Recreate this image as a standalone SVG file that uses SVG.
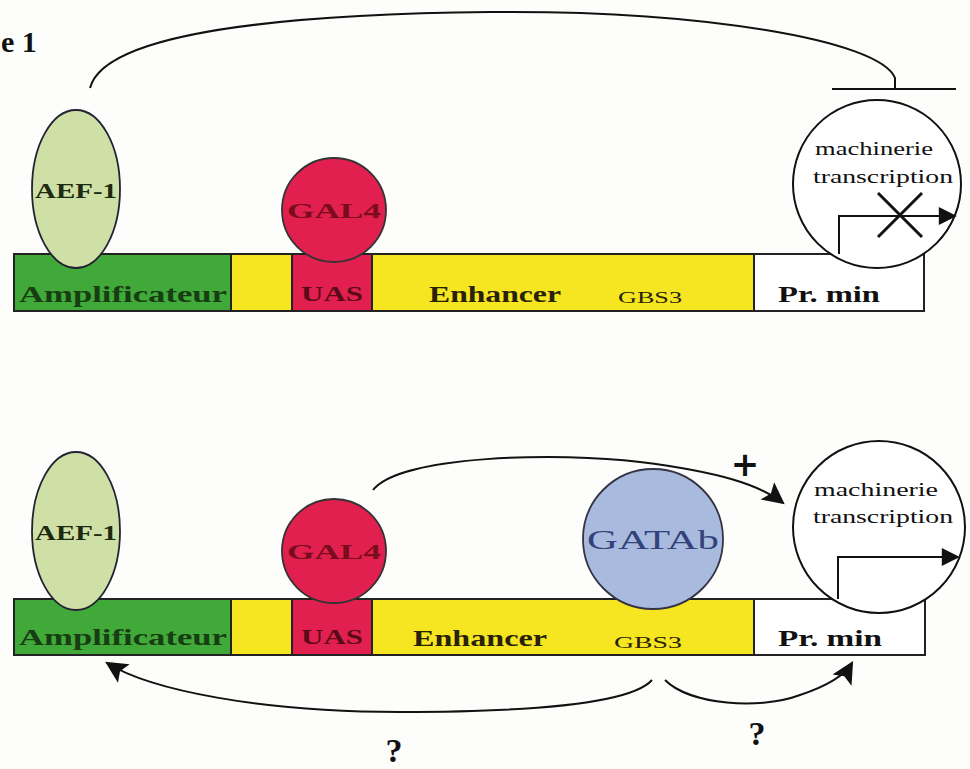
<svg xmlns="http://www.w3.org/2000/svg" width="970" height="769" viewBox="0 0 970 769">
<defs>
<marker id="ahb" viewBox="0 0 10 10" refX="9" refY="5" markerWidth="24" markerHeight="22" markerUnits="userSpaceOnUse" orient="auto">
<path d="M0,0 L10,5 L0,10 L2,5 z" fill="#111"/>
</marker>
<marker id="ahp" viewBox="0 0 10 10" refX="9" refY="5" markerWidth="28" markerHeight="18" markerUnits="userSpaceOnUse" orient="auto">
<path d="M0,0 L10,5 L0,10 z" fill="#111"/>
</marker>
</defs>
<style>
.bx{stroke:#222;stroke-width:2}
.grn{fill:#41a93a}
.yel{fill:#f6e622}
.red{fill:#e2204f}
.wht{fill:#ffffff}
.aef{fill:#cfe0a6;stroke:#223;stroke-width:1.8}
.gal{fill:#e2204f;stroke:#333;stroke-width:1.8}
.gat{fill:#a9badf;stroke:#334;stroke-width:1.8}
.mach{fill:#fff;stroke:#111;stroke-width:2}
.ln{fill:none;stroke:#111;stroke-width:2}
.t{font-family:"Liberation Serif","DejaVu Serif",serif;font-weight:bold}
.tn{font-family:"Liberation Serif","DejaVu Serif",serif}
</style>
<rect width="970" height="769" fill="#fdfdfb"/>
<text x="1" y="52" class="t" font-size="30" fill="#111">e 1</text>

<!-- TOP PANEL -->
<g id="top-bar">
<rect x="14" y="254" width="217" height="57" class="bx grn"/>
<rect x="231" y="254" width="61" height="57" class="bx yel"/>
<rect x="372" y="254" width="382" height="57" class="bx yel"/>
<rect x="292" y="254" width="80" height="57" class="bx red"/>
<rect x="754" y="254" width="170" height="57" class="bx wht"/>
<text x="123" y="302" class="t" font-size="23" fill="#173d12" text-anchor="middle" textLength="208" lengthAdjust="spacingAndGlyphs">Amplificateur</text>
<text x="332" y="301" class="t" font-size="21" fill="#5a0a18" text-anchor="middle" textLength="62" lengthAdjust="spacingAndGlyphs">UAS</text>
<text x="495" y="302" class="t" font-size="24" fill="#2a2206" text-anchor="middle" textLength="132" lengthAdjust="spacingAndGlyphs">Enhancer</text>
<text x="650" y="303" class="tn" font-size="17" fill="#2a2206" text-anchor="middle" textLength="64" lengthAdjust="spacingAndGlyphs">GBS3</text>
<text x="829" y="302" class="t" font-size="24" fill="#111" text-anchor="middle" textLength="102" lengthAdjust="spacingAndGlyphs">Pr. min</text>
</g>
<g id="top-aef1">
<ellipse cx="76" cy="189" rx="44" ry="79" class="aef"/>
<text x="76" y="198" class="t" font-size="21" fill="#1d2a10" text-anchor="middle" textLength="82" lengthAdjust="spacingAndGlyphs">AEF-1</text>
</g>
<g id="top-gal4">
<circle cx="334" cy="210" r="52" class="gal"/>
<text x="334" y="218" class="t" font-size="21" fill="#7a0c1e" text-anchor="middle" textLength="94" lengthAdjust="spacingAndGlyphs">GAL4</text>
</g>
<g id="top-machinerie">
<circle cx="877" cy="184" r="84" class="mach"/>
<text x="874" y="155" class="tn" font-size="19" fill="#111" text-anchor="middle" textLength="118" lengthAdjust="spacingAndGlyphs">machinerie</text>
<text x="883" y="183" class="tn" font-size="19" fill="#111" text-anchor="middle" textLength="140" lengthAdjust="spacingAndGlyphs">transcription</text>
<path d="M839,254 V216 H955" class="ln" marker-end="url(#ahp)"/>
<path d="M878,193 L922,237 M922,193 L878,237" stroke="#111" stroke-width="3" fill="none"/>
</g>
<g id="top-connectors">
<path d="M90,88 C105,30 300,14 490,12 C700,10 880,40 895,78 V89" class="ln"/>
<line x1="832" y1="89" x2="956" y2="89" stroke="#111" stroke-width="2"/>
</g>

<!-- BOTTOM PANEL -->
<g id="bottom-bar">
<rect x="14" y="599" width="217" height="56" class="bx grn"/>
<rect x="231" y="599" width="61" height="56" class="bx yel"/>
<rect x="372" y="599" width="382" height="56" class="bx yel"/>
<rect x="292" y="599" width="80" height="56" class="bx red"/>
<rect x="754" y="599" width="171" height="56" class="bx wht"/>
<text x="123" y="645" class="t" font-size="23" fill="#173d12" text-anchor="middle" textLength="208" lengthAdjust="spacingAndGlyphs">Amplificateur</text>
<text x="332" y="644" class="t" font-size="21" fill="#5a0a18" text-anchor="middle" textLength="62" lengthAdjust="spacingAndGlyphs">UAS</text>
<text x="480" y="646" class="t" font-size="24" fill="#2a2206" text-anchor="middle" textLength="134" lengthAdjust="spacingAndGlyphs">Enhancer</text>
<text x="648" y="648" class="tn" font-size="17" fill="#2a2206" text-anchor="middle" textLength="68" lengthAdjust="spacingAndGlyphs">GBS3</text>
<text x="830" y="646" class="t" font-size="24" fill="#111" text-anchor="middle" textLength="104" lengthAdjust="spacingAndGlyphs">Pr. min</text>
</g>
<g id="bottom-aef1">
<ellipse cx="76" cy="531" rx="44" ry="79" class="aef"/>
<text x="76" y="540" class="t" font-size="21" fill="#1d2a10" text-anchor="middle" textLength="82" lengthAdjust="spacingAndGlyphs">AEF-1</text>
</g>
<g id="bottom-gal4">
<circle cx="334" cy="551" r="52" class="gal"/>
<text x="334" y="559" class="t" font-size="21" fill="#7a0c1e" text-anchor="middle" textLength="94" lengthAdjust="spacingAndGlyphs">GAL4</text>
</g>
<g id="bottom-gatab">
<circle cx="653" cy="539" r="70" class="gat"/>
<text x="653" y="549" class="tn" font-size="28" fill="#33427a" text-anchor="middle" textLength="132" lengthAdjust="spacingAndGlyphs">GATAb</text>
</g>
<g id="bottom-machinerie">
<circle cx="879" cy="527" r="86" class="mach"/>
<text x="876" y="496" class="tn" font-size="19" fill="#111" text-anchor="middle" textLength="124" lengthAdjust="spacingAndGlyphs">machinerie</text>
<text x="883" y="523" class="tn" font-size="19" fill="#111" text-anchor="middle" textLength="140" lengthAdjust="spacingAndGlyphs">transcription</text>
<path d="M838,599 V557 H958" class="ln" marker-end="url(#ahp)"/>
</g>
<g id="bottom-connectors">
<path d="M373,490 C400,455 560,452 640,462 C720,472 760,485 783,503" class="ln" marker-end="url(#ahb)"/>
<text x="745" y="476" font-family="DejaVu Sans, sans-serif" font-weight="bold" font-size="34" fill="#111" text-anchor="middle">+</text>
<path d="M652,680 C630,705 520,712 400,712 C260,712 150,690 107,663" class="ln" marker-end="url(#ahb)"/>
<text x="394" y="762" class="t" font-size="34" fill="#111" text-anchor="middle">?</text>
<path d="M665,680 C690,705 760,710 800,695 C830,685 845,675 852,663" class="ln" marker-end="url(#ahb)"/>
<text x="757" y="745" class="t" font-size="34" fill="#111" text-anchor="middle">?</text>
</g>
</svg>
